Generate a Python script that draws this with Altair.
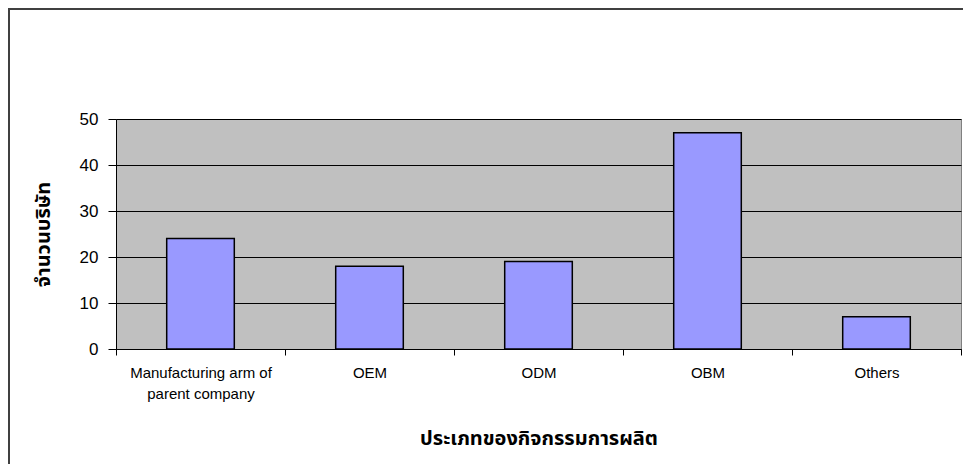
import altair as alt
import pandas as pd

categories = ["Manufacturing arm of\nparent company", "OEM", "ODM", "OBM", "Others"]
values = [24, 18, 19, 47, 7]

x_title = "ประเภทของกิจกรรมการผลิต"
y_title = "จำนวนบริษัท"

df = pd.DataFrame({"cat": categories, "val": values})

W, H = 845, 230

bars = alt.Chart(df).mark_bar(
    width=alt.RelativeBandSize(0.4), color="#9999FF", stroke="black", strokeWidth=1.5
).encode(
    x=alt.X("cat:N", sort=categories, title=x_title,
            scale=alt.Scale(paddingInner=0, paddingOuter=0),
            axis=alt.Axis(labelAngle=0, tickBand="extent",
                          labelExpr="isValid(datum.value) ? split(datum.value, '\\n') : ''",
                          labelLineHeight=21, labelFontSize=15, labelPadding=10, tickSize=6,
                          labelFont="Liberation Sans", titleFont="Tahoma, Noto Sans Thai, sans-serif",
                          titleFontSize=20, titleFontWeight="bold", titleX=W / 2, titleY=89,
                          titleBaseline="middle", titleAlign="center",
                          domainColor="black", tickColor="black", labelColor="black", titleColor="black")),
    y=alt.Y("val:Q", title=y_title, scale=alt.Scale(domain=[0, 50]),
            axis=alt.Axis(values=[0, 10, 20, 30, 40, 50], tickSize=8, labelPadding=10,
                          labelFontSize=17, labelFont="Liberation Sans",
                          grid=True, gridColor="black", gridOpacity=1, gridWidth=1,
                          titleFont="Tahoma, Noto Sans Thai, sans-serif", titleFontSize=20,
                          titleFontWeight="bold", titleAngle=-90, titleX=-73, titleY=H / 2,
                          titleAlign="center", titleBaseline="middle",
                          domainColor="black", tickColor="black", labelColor="black", titleColor="black")),
)

frame = alt.Chart(df).mark_rect(filled=False, stroke="#404040", strokeWidth=2).encode(
    x=alt.value(-107), x2=alt.value(W + 40), y=alt.value(-110), y2=alt.value(H + 200)
)

chart = alt.layer(bars, frame).properties(
    width=W, height=H,
    autosize=alt.AutoSizeParams(type="none"),
    padding={"left": 108, "top": 111, "right": 2, "bottom": 115},
).configure(
    background="white",
    view=alt.ViewConfig(fill="#C0C0C0", stroke="#808080", strokeWidth=1),
)

chart.save("out.html", embed_options={"renderer": "svg", "actions": False})
